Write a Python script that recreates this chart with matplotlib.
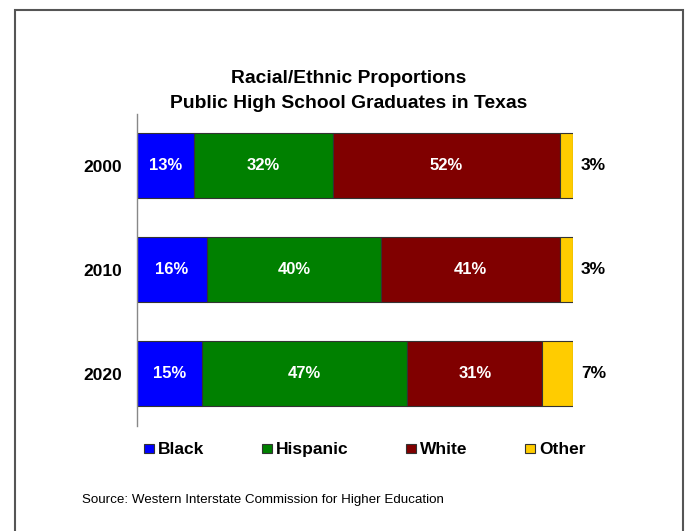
import matplotlib.pyplot as plt
from matplotlib.patches import Rectangle

plt.rcParams['font.family'] = ['Liberation Sans', 'DejaVu Sans']

years = ['2000', '2010', '2020']
groups = ['Black', 'Hispanic', 'White', 'Other']
shares = {
    'Black':    [13, 16, 15],
    'Hispanic': [32, 40, 47],
    'White':    [52, 41, 31],
    'Other':    [3, 3, 7],
}
colors = {'Black': '#0000FF', 'Hispanic': '#008000', 'White': '#800000', 'Other': '#FFCC00'}

fig = plt.figure(figsize=(6.86, 5.31), dpi=100)
W, H = 686, 531

# frame around the whole slide (runs off the bottom edge)
fig.patches.append(Rectangle((15 / W, -0.05), (683 - 15) / W, 1.05 - 10 / H, transform=fig.transFigure,
                             fill=False, edgecolor='#555555', linewidth=1.5))

ax = fig.add_axes([137 / W, 1 - 425.5 / H, 436 / W, 312 / H])
ax.set_xlim(0, 100)
ax.set_ylim(2.5, -0.5)

left = [0, 0, 0]
for g in groups:
    vals = shares[g]
    ax.barh(range(len(years)), vals, left=left, height=0.625, color=colors[g],
            edgecolor='#333333', linewidth=0.8, label=g)
    for i, v in enumerate(vals):
        if g == 'Other':
            ax.text(104.7, i, f'{v}%', ha='center', va='center', fontsize=12.5,
                    fontweight='bold', color='black')
        else:
            ax.text(left[i] + v / 2, i, f'{v}%', ha='center', va='center', fontsize=12,
                    fontweight='bold', color='white')
    left = [l + v for l, v in zip(left, vals)]

ax.set_yticks(range(len(years)))
ax.set_yticklabels(years, fontsize=12.5, fontweight='bold')
ax.tick_params(axis='y', length=0, pad=11)
ax.set_xticks([])
for s in ['top', 'right', 'bottom']:
    ax.spines[s].set_visible(False)
ax.spines['left'].set_color('#888888')
ax.spines['left'].set_linewidth(1)

fig.text(349 / W, 1 - 91 / H, 'Racial/Ethnic Proportions\nPublic High School Graduates in Texas',
         ha='center', va='center', fontsize=13.9, fontweight='bold', linespacing=1.55)

# legend row: colour key boxes with bold names
legend_x = [144, 262, 406, 525]
for g, x in zip(groups, legend_x):
    fig.patches.append(Rectangle((x / W, 1 - 453 / H), 9.5 / W, 9.5 / H, transform=fig.transFigure,
                                 facecolor=colors[g], edgecolor='#333333', linewidth=0.8))
    fig.text((x + 14) / W, 1 - 448 / H, g, ha='left', va='center_baseline', fontsize=12.5,
             fontweight='bold')

fig.text(82 / W, 1 - 500 / H, 'Source: Western Interstate Commission for Higher Education',
         ha='left', va='center', fontsize=9.6)

fig.savefig('out.png', dpi=100)
